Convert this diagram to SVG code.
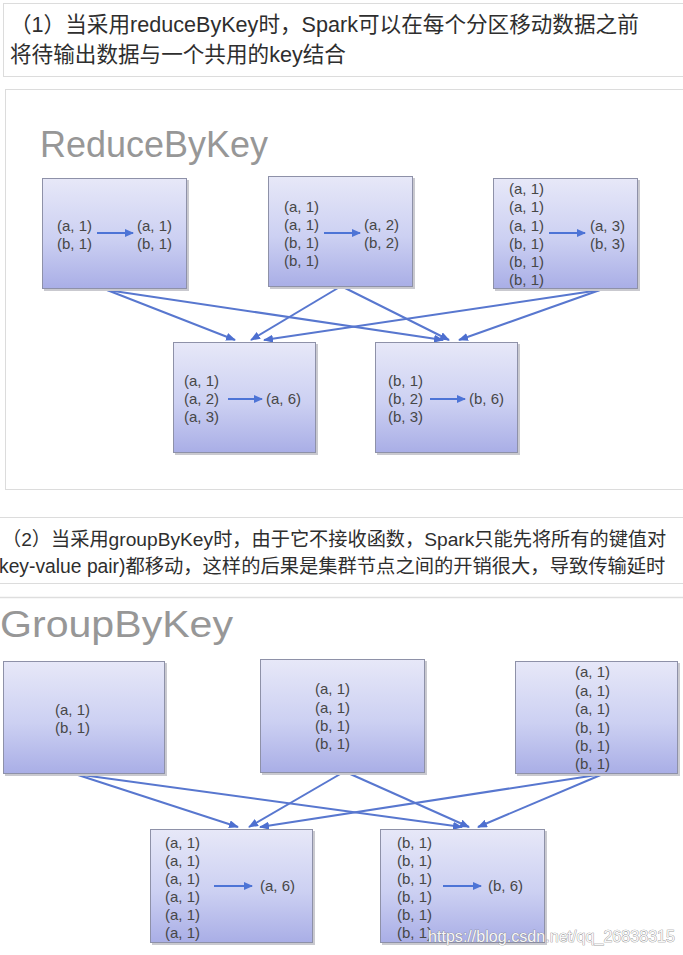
<svg xmlns="http://www.w3.org/2000/svg" width="683" height="955" viewBox="0 0 683 955">
<style>
.cn{font-family:"Liberation Sans","Noto Sans CJK SC",sans-serif;fill:#2e2e2e}
.ttl{font-family:"Liberation Sans",Arial,sans-serif;font-size:36px;fill:#979797}
.d{font-family:"Liberation Sans",Arial,sans-serif;font-size:15px;fill:#474747}
.box{fill:url(#g);stroke:#8e91a8;stroke-width:1}
.sh{fill:#c9c9cf}
.con line{stroke:#5877cf;stroke-width:2;marker-end:url(#ah)}
.ia{stroke:#4d74d6;stroke-width:2.2;marker-end:url(#ai)}
.panel{fill:#fff;stroke:#dcdcdc;stroke-width:1}
.wm{font-family:"Liberation Sans",Arial,sans-serif;font-size:17px;fill:#f7f7f7;stroke:#7d7d7d;stroke-width:0.7;paint-order:stroke}
</style>
<defs>
<linearGradient id="g" x1="0" y1="0" x2="0" y2="1">
<stop offset="0" stop-color="#e7e8f8"/>
<stop offset="0.55" stop-color="#ccd0f2"/>
<stop offset="1" stop-color="#a9aee6"/>
</linearGradient>
<marker id="ah" markerUnits="userSpaceOnUse" markerWidth="10" markerHeight="8" refX="9" refY="4" orient="auto">
<path d="M0,0 L10,4 L0,8 z" fill="#4d6fd0"/>
</marker>
<marker id="ai" markerUnits="userSpaceOnUse" markerWidth="9" markerHeight="8" refX="8" refY="4" orient="auto">
<path d="M0,0 L9,4 L0,8 z" fill="#4d74d6"/>
</marker>
</defs>
<rect width="683" height="955" fill="#ffffff"/>

<!-- section 1 text -->
<g id="text1">
<rect class="panel" x="3.5" y="3.5" width="690" height="73"/>
<text class="cn" x="10" y="32" font-size="21.6">（1）当采用reduceByKey时，Spark可以在每个分区移动数据之前</text>
<text class="cn" x="10" y="62" font-size="21.6">将待输出数据与一个共用的key结合</text>
</g>
<rect class="panel" x="5.5" y="89.5" width="690" height="400"/>
<text class="ttl" x="40" y="157" textLength="228" lengthAdjust="spacingAndGlyphs">ReduceByKey</text>

<!-- section 1 connectors -->
<g id="connectors1" class="con">
<line x1="107" y1="290" x2="235" y2="340"/>
<line x1="107" y1="290" x2="443" y2="340"/>
<line x1="338" y1="288" x2="251" y2="340"/>
<line x1="345" y1="288" x2="449" y2="340"/>
<line x1="600" y1="290" x2="264" y2="340"/>
<line x1="600" y1="290" x2="459" y2="340"/>
</g>

<g id="r1">
<rect class="sh" x="44" y="180" width="145" height="111"/>
<rect class="box" x="42.5" y="178.5" width="144" height="110"/>
<text class="d" x="57" y="231">(a, 1)</text>
<text class="d" x="57" y="249">(b, 1)</text>
<line class="ia" x1="97" y1="233" x2="133" y2="233"/>
<text class="d" x="137" y="231">(a, 1)</text>
<text class="d" x="137" y="249">(b, 1)</text>
</g>
<g id="r2">
<rect class="sh" x="270" y="178" width="145" height="111"/>
<rect class="box" x="268.5" y="176.5" width="144" height="110"/>
<text class="d" x="284" y="212">(a, 1)</text>
<text class="d" x="284" y="230">(a, 1)</text>
<text class="d" x="284" y="248">(b, 1)</text>
<text class="d" x="284" y="266">(b, 1)</text>
<line class="ia" x1="324" y1="233" x2="360" y2="233"/>
<text class="d" x="364" y="230">(a, 2)</text>
<text class="d" x="364" y="248">(b, 2)</text>
</g>
<g id="r3">
<rect class="sh" x="495" y="180" width="145" height="111"/>
<rect class="box" x="493.5" y="178.5" width="144" height="110"/>
<text class="d" x="509" y="194">(a, 1)</text>
<text class="d" x="509" y="212">(a, 1)</text>
<text class="d" x="509" y="231">(a, 1)</text>
<text class="d" x="509" y="249">(b, 1)</text>
<text class="d" x="509" y="267">(b, 1)</text>
<text class="d" x="509" y="285">(b, 1)</text>
<line class="ia" x1="549" y1="233" x2="585" y2="233"/>
<text class="d" x="590" y="231">(a, 3)</text>
<text class="d" x="590" y="249">(b, 3)</text>
</g>
<g id="r4">
<rect class="sh" x="175" y="344" width="143" height="111"/>
<rect class="box" x="173.5" y="342.5" width="142" height="110"/>
<text class="d" x="184" y="386">(a, 1)</text>
<text class="d" x="184" y="404">(a, 2)</text>
<text class="d" x="184" y="422">(a, 3)</text>
<line class="ia" x1="228" y1="399" x2="262" y2="399"/>
<text class="d" x="266" y="404">(a, 6)</text>
</g>
<g id="r5">
<rect class="sh" x="377" y="344" width="143" height="111"/>
<rect class="box" x="375.5" y="342.5" width="142" height="110"/>
<text class="d" x="388" y="386">(b, 1)</text>
<text class="d" x="388" y="404">(b, 2)</text>
<text class="d" x="388" y="422">(b, 3)</text>
<line class="ia" x1="430" y1="399" x2="465" y2="399"/>
<text class="d" x="469" y="404">(b, 6)</text>
</g>

<!-- section 2 text -->
<g id="text2">
<rect class="panel" x="-5" y="517.5" width="700" height="66"/>
<text class="cn" x="2" y="546" font-size="19.2">（2）当采用groupByKey时，由于它不接收函数，Spark只能先将所有的键值对</text>
<text class="cn" x="-1" y="573" font-size="19.3">key-value pair)都移动，这样的后果是集群节点之间的开销很大，导致传输延时</text>
</g>
<line x1="0" y1="597.5" x2="683" y2="597.5" stroke="#dedede" stroke-width="1.5"/>
<text class="ttl" x="0" y="637" textLength="233" lengthAdjust="spacingAndGlyphs">GroupByKey</text>

<g id="connectors2" class="con">
<line x1="75" y1="774" x2="238" y2="827"/>
<line x1="75" y1="774" x2="462" y2="827"/>
<line x1="342" y1="773" x2="249" y2="827"/>
<line x1="348" y1="773" x2="469" y2="827"/>
<line x1="603" y1="774" x2="260" y2="827"/>
<line x1="603" y1="774" x2="478" y2="827"/>
</g>

<g id="g1">
<rect class="sh" x="5" y="663" width="162" height="113"/>
<rect class="box" x="3.5" y="661.5" width="161" height="112"/>
<text class="d" x="55" y="715">(a, 1)</text>
<text class="d" x="55" y="733">(b, 1)</text>
</g>
<g id="g2">
<rect class="sh" x="262" y="661" width="165" height="114"/>
<rect class="box" x="260.5" y="659.5" width="164" height="113"/>
<text class="d" x="315" y="694">(a, 1)</text>
<text class="d" x="315" y="713">(a, 1)</text>
<text class="d" x="315" y="731">(b, 1)</text>
<text class="d" x="315" y="749">(b, 1)</text>
</g>
<g id="g3">
<rect class="sh" x="517" y="663" width="163" height="113"/>
<rect class="box" x="515.5" y="661.5" width="162" height="112"/>
<text class="d" x="575" y="677">(a, 1)</text>
<text class="d" x="575" y="696">(a, 1)</text>
<text class="d" x="575" y="714">(a, 1)</text>
<text class="d" x="575" y="733">(b, 1)</text>
<text class="d" x="575" y="751">(b, 1)</text>
<text class="d" x="575" y="769">(b, 1)</text>
</g>
<g id="g4">
<rect class="sh" x="152" y="831" width="163" height="114"/>
<rect class="box" x="150.5" y="829.5" width="162" height="113"/>
<text class="d" x="165" y="848">(a, 1)</text>
<text class="d" x="165" y="866">(a, 1)</text>
<text class="d" x="165" y="884">(a, 1)</text>
<text class="d" x="165" y="902">(a, 1)</text>
<text class="d" x="165" y="920">(a, 1)</text>
<text class="d" x="165" y="938">(a, 1)</text>
<line class="ia" x1="214" y1="886" x2="252" y2="886"/>
<text class="d" x="260" y="891">(a, 6)</text>
</g>
<g id="g5">
<rect class="sh" x="382" y="831" width="165" height="114"/>
<rect class="box" x="380.5" y="829.5" width="164" height="113"/>
<text class="d" x="397" y="848">(b, 1)</text>
<text class="d" x="397" y="866">(b, 1)</text>
<text class="d" x="397" y="884">(b, 1)</text>
<text class="d" x="397" y="902">(b, 1)</text>
<text class="d" x="397" y="920">(b, 1)</text>
<text class="d" x="397" y="938">(b, 1)</text>
<line class="ia" x1="443" y1="886" x2="481" y2="886"/>
<text class="d" x="488" y="891">(b, 6)</text>
</g>
<text class="wm" x="428" y="942" textLength="247" lengthAdjust="spacingAndGlyphs">https://blog.csdn.net/qq_26838315</text>
</svg>
